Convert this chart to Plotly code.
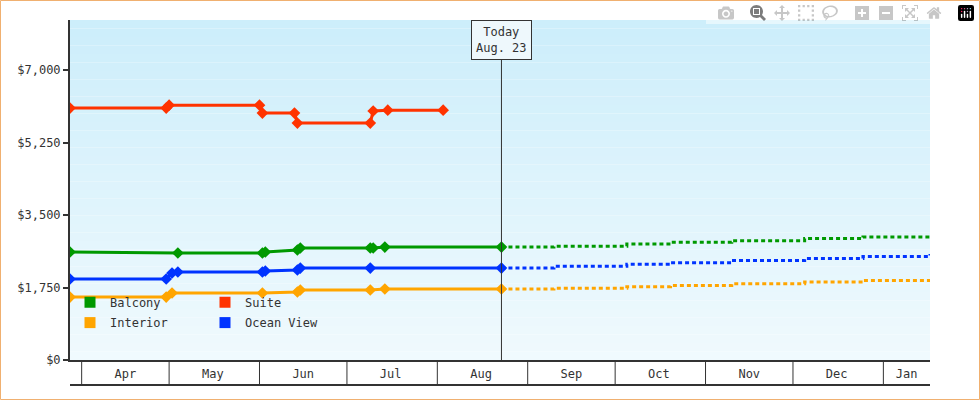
import plotly.graph_objects as go

suite_x = ["2024-03-28","2024-04-30","2024-05-01","2024-06-01","2024-06-02","2024-06-13","2024-06-14","2024-07-09","2024-07-10","2024-07-15","2024-08-03"]
suite_y = [6080,6080,6150,6150,5960,5960,5720,5720,6010,6030,6030]
balc_x = ["2024-03-28","2024-05-04","2024-06-02","2024-06-03","2024-06-14","2024-06-15","2024-07-09","2024-07-10","2024-07-14","2024-08-23"]
balc_y = [2607,2583,2583,2607,2655,2703,2703,2703,2727,2727]
ocean_x = ["2024-03-28","2024-04-30","2024-05-02","2024-05-04","2024-06-02","2024-06-03","2024-06-14","2024-06-15","2024-07-09","2024-08-23"]
ocean_y = [1955,1955,2100,2124,2124,2148,2172,2220,2220,2220]
int_x = ["2024-03-28","2024-04-30","2024-05-02","2024-06-02","2024-06-14","2024-06-15","2024-07-09","2024-07-14","2024-08-23"]
int_y = [1520,1520,1617,1617,1641,1690,1690,1714,1714]
fc_x = ["2024-08-23","2024-09-10","2024-10-05","2024-10-20","2024-11-10","2024-12-05","2024-12-25","2025-01-17"]
balc_fc = [2727,2745,2800,2840,2880,2930,2970,3017]
ocean_fc = [2220,2260,2310,2350,2400,2450,2500,2558]
int_fc = [1714,1730,1770,1800,1840,1880,1920,1955]
months = ["2024-04-01","2024-05-01","2024-06-01","2024-07-01","2024-08-01","2024-09-01","2024-10-01","2024-11-01","2024-12-01","2025-01-01"]
mid_months = ["2024-04-16","2024-05-16","2024-06-16","2024-07-16","2024-08-16","2024-09-16","2024-10-16","2024-11-16","2024-12-16","2025-01-09"]
month_labels = ["Apr","May","Jun","Jul","Aug","Sep","Oct","Nov","Dec","Jan"]
yticks = [0,1750,3500,5250,7000]
ytick_labels = ["$0","$1,750","$3,500","$5,250","$7,000"]
today = "2024-08-23"

GREEN, RED, ORANGE, BLUE = "#009900", "#ff3300", "#ffa500", "#0033ff"
fig = go.Figure()
N = 40
for i in range(N):
    t = i / (N - 1)
    c0 = (205, 238, 251); c1 = (240, 250, 254)
    col = tuple(int(c1[k] + (c0[k] - c1[k]) * t) for k in range(3))
    fig.add_shape(type="rect", xref="x domain", yref="y domain", x0=0, x1=1, y0=i / N, y1=(i + 1) / N,
                  fillcolor="rgb(%d,%d,%d)" % col, line_width=0, layer="below")

def series(x, y, color):
    fig.add_trace(go.Scatter(x=x, y=y, mode="lines+markers", line=dict(color=color, width=3),
                             marker=dict(symbol="diamond", size=9, color=color), showlegend=False))

series(suite_x, suite_y, RED)
series(balc_x, balc_y, GREEN)
series(ocean_x, ocean_y, BLUE)
series(int_x, int_y, ORANGE)
for y, c in [(balc_fc, GREEN), (ocean_fc, BLUE), (int_fc, ORANGE)]:
    fig.add_trace(go.Scatter(x=fc_x, y=y, mode="lines", line=dict(color=c, width=3, dash="4px,3px", shape="hv"), showlegend=False))

for name, c, lg in [("Balcony", GREEN, "legend"), ("Suite", RED, "legend"), ("Interior", ORANGE, "legend2"), ("Ocean View", BLUE, "legend2")]:
    fig.add_trace(go.Scatter(x=[None], y=[None], mode="markers", name=name, legend=lg,
                             marker=dict(symbol="square", size=11, color=c)))

for m in months:
    fig.add_shape(type="line", xref="x", yref="paper", x0=m, x1=m, y0=0, y1=-25/340, line=dict(color="#333", width=1))
fig.add_shape(type="line", xref="paper", yref="paper", x0=0, x1=1, y0=-25/340, y1=-25/340, line=dict(color="#333", width=2))
fig.add_shape(type="line", xref="x", yref="paper", x0=today, x1=today, y0=0, y1=300/340, line=dict(color="#333", width=1))
fig.add_shape(type="rect", xref="paper", yref="paper", x0=-69.5/860, x1=1+49.5/860, y0=-39.5/340, y1=1+19.5/340,
              line=dict(color="#f0b070", width=1))
fig.add_annotation(x=today, y=1, xref="x", yref="paper", yanchor="top", text="Today<br>Aug. 23", showarrow=False,
                   bgcolor="#eef8fc", bordercolor="#333", borderwidth=1, borderpad=4, font=dict(size=12, color="#333"))

fig.update_layout(
    width=980, height=400, margin=dict(l=70, r=50, t=20, b=40),
    paper_bgcolor="white", plot_bgcolor="rgba(0,0,0,0)",
    font=dict(family="DejaVu Sans Mono", size=12, color="#333"),
    xaxis=dict(type="date", range=["2024-03-28", "2025-01-17"], tickvals=mid_months, ticktext=month_labels,
               ticks="", showgrid=False, zeroline=False, showline=True,
               linecolor="#333", linewidth=2, ticklabelstandoff=2),
    yaxis=dict(range=[0, 8207], tickvals=yticks, ticktext=ytick_labels, ticks="outside", ticklen=5,
               tickwidth=2, tickcolor="#333", showgrid=False, zeroline=False, showline=True, linecolor="#333", linewidth=2),
    legend=dict(orientation="h", x=0.0, y=0.17, xanchor="left", yanchor="middle", bgcolor="rgba(0,0,0,0)",
                entrywidth=90, font=dict(size=12), itemwidth=30),
    legend2=dict(orientation="h", x=0.0, y=0.11, xanchor="left", yanchor="middle", bgcolor="rgba(0,0,0,0)",
                 entrywidth=90, font=dict(size=12), itemwidth=30),
)
fig.write_html("out.html", post_script="document.body.style.margin='0';")
